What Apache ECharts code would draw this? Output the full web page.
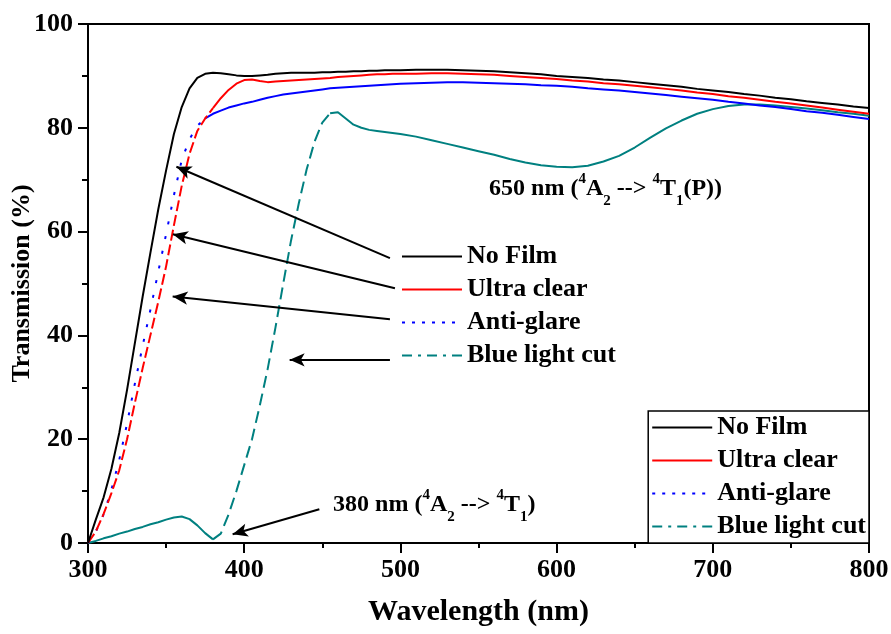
<!DOCTYPE html>
<html>
<head>
<meta charset="utf-8">
<script src="https://cdn.jsdelivr.net/npm/echarts@6/dist/echarts.min.js"></script>
<style>html,body{margin:0;padding:0;background:#fff;}#chart{width:891px;height:634px;}</style>
</head>
<body>
<div id="chart"></div>
<script>
// ---- data ----
const wavelength = [300,305,310,315,320,325,330,335,340,345,350,355,360,365,370,375,380,385,390,395,400,405,410,415,420,425,430,435,440,445,450,455,460,465,470,475,480,485,490,495,500,
  510,520,530,540,550,560,570,580,590,600,610,620,630,640,650,660,670,680,690,700,710,720,730,740,750,760,770,780,790,800];
const noFilm = [0,4.5,8.8,14.3,21.2,29.5,38.5,47.5,56.0,64.3,71.8,78.8,84.0,87.6,89.6,90.4,90.6,90.5,90.3,90.1,90.0,90.0,90.1,90.2,90.4,90.5,90.6,90.6,90.6,90.6,90.7,90.7,90.8,90.8,90.9,90.9,91.0,91.0,91.1,91.1,91.1,
  91.2,91.2,91.2,91.1,91.0,90.9,90.7,90.5,90.3,90.0,89.8,89.6,89.3,89.1,88.8,88.5,88.2,87.9,87.5,87.2,86.9,86.5,86.2,85.8,85.5,85.1,84.8,84.5,84.1,83.8];
const ultraClear = [0,2.2,5.6,9.6,14.0,20.0,27.0,33.7,40.1,46.5,53.3,61.2,68.8,75.0,79.4,81.8,83.8,85.7,87.3,88.5,89.2,89.3,89.0,88.8,88.9,89.0,89.1,89.2,89.3,89.4,89.5,89.6,89.8,89.9,90.0,90.1,90.2,90.3,90.3,90.4,90.4,
  90.4,90.5,90.5,90.4,90.3,90.2,90.0,89.8,89.6,89.4,89.1,88.9,88.6,88.4,88.1,87.8,87.5,87.2,86.8,86.5,86.1,85.8,85.4,85.0,84.7,84.3,83.9,83.5,83.1,82.7];
const antiGlare = [0,2.2,5.5,10.3,16.0,23.0,30.7,38.0,45.0,52.3,59.5,67.0,73.8,77.8,80.4,81.8,82.7,83.3,83.9,84.3,84.7,85.0,85.4,85.8,86.1,86.4,86.6,86.8,87.0,87.2,87.4,87.6,87.7,87.8,87.9,88.0,88.1,88.2,88.3,88.4,88.5,
  88.6,88.7,88.8,88.8,88.7,88.6,88.5,88.4,88.2,88.1,87.9,87.6,87.4,87.2,86.9,86.6,86.3,86.0,85.7,85.4,85.0,84.7,84.3,84.0,83.6,83.2,82.9,82.5,82.1,81.7];
const blueLightCut = [0,0.4,0.9,1.3,1.8,2.2,2.7,3.1,3.6,4.0,4.5,4.9,5.1,4.6,3.4,1.9,0.7,1.8,5.5,10.0,15.0,20.0,26.5,33.5,41.5,50.0,58.3,65.5,72.0,77.3,81.0,82.8,83.0,81.8,80.6,80.0,79.6,79.4,79.2,79.0,78.8,
  78.3,77.6,76.9,76.2,75.5,74.8,74.0,73.3,72.8,72.5,72.4,72.7,73.5,74.6,76.2,78.1,79.9,81.4,82.7,83.6,84.2,84.5,84.5,84.3,84.0,83.7,83.4,83.0,82.7,82.3];
const seriesNames = ['No Film','Ultra clear','Anti-glare','Blue light cut'];
// annotation arrows: [tailX, tailY, headX, headY] in data units
const arrows = [
  [493.3,54.9,356.6,72.5],
  [496.5,49.1,354.3,59.5],
  [493.3,43.1,354.2,47.5],
  [493.3,35.3,429.1,35.3],
  [448.1,6.5,392.6,1.7]
];
const notes = [
  {x:556.8, y:68.3, text:'{n|650 nm (}{sup|4}{n|A}{sub|2}{n| --> }{sup|4}{n|T}{sub|1}{n|(P))}'},
  {x:456.9, y:7.3, text:'{n|380 nm (}{sup|4}{n|A}{sub|2}{n| --> }{sup|4}{n|T}{sub|1}{n|)}'}
];

// ---- styles ----
const FONT = '"Liberation Serif","Times New Roman",serif';
const C = {nf:'#000000', uc:'#ff0000', ag:'#0000ff', bl:'#008080'};
function seg(ys, from, to){
  const out=[];
  for(let i=0;i<wavelength.length;i++){ if(wavelength[i]>=from && wavelength[i]<=to) out.push([wavelength[i], ys[i]]); }
  return out;
}
function line(name, data, color, type, z){
  return {type:'line', name, data, showSymbol:false, symbol:'none', silent:true, z:z||2,
    lineStyle:{color, width:2, type}, itemStyle:{color}, emphasis:{disabled:true}};
}
const hidden = {color:'rgba(0,0,0,0)', borderWidth:0, opacity:0};
const legendItems = [
  {name:'No Film', itemStyle:hidden, lineStyle:{color:C.nf, width:2, type:'solid'}},
  {name:'Ultra clear', itemStyle:hidden, lineStyle:{color:C.uc, width:2, type:'solid'}},
  {name:'Anti-glare', itemStyle:hidden, lineStyle:{color:C.ag, width:2, type:[3,7]}},
  {name:'Blue light cut', itemStyle:hidden, lineStyle:{color:C.bl, width:2, type:[10,6,3,6]}}
];
const legendText = {fontFamily:FONT, fontWeight:'bold', fontSize:26, color:'#000', lineHeight:33};

const richStyles = {
  n:{fontFamily:FONT, fontWeight:'bold', fontSize:24, color:'#000', lineHeight:40},
  sup:{fontFamily:FONT, fontWeight:'bold', fontSize:15, color:'#000', lineHeight:15, verticalAlign:'top', padding:[3,0,0,0]},
  sub:{fontFamily:FONT, fontWeight:'bold', fontSize:15, color:'#000', lineHeight:13, verticalAlign:'bottom'}
};

const black = line('No Film', seg(noFilm,300,800), C.nf, 'solid', 5);
black.markLine = {
  silent:true, animation:false, symbol:['none','arrow'], symbolSize:[10,15],
  label:{show:false}, lineStyle:{color:'#000', width:2, type:'solid'}, emphasis:{disabled:true},
  data: arrows.map(a => [{coord:[a[0],a[1]]},{coord:[a[2],a[3]]}])
};
black.markPoint = {
  silent:true, animation:false, symbol:'circle', symbolSize:0,
  itemStyle:{color:'rgba(0,0,0,0)'},
  label:{show:true, position:'right', distance:0, formatter:p=>p.data.text, rich:richStyles},
  data: notes.map(n => ({coord:[n.x,n.y], text:n.text}))
};

const series = [
  black,
  line('Ultra clear', seg(ultraClear,380,800), C.uc, 'solid', 4),
  line('Ultra clear', seg(ultraClear,300,380), C.uc, [11,4], 4),
  line('Anti-glare', seg(antiGlare,300,375), C.ag, [3,12], 3),
  line('Anti-glare', seg(antiGlare,375,800), C.ag, 'solid', 3),
  line('Blue light cut', seg(blueLightCut,300,380), C.bl, 'solid', 2),
  line('Blue light cut', seg(blueLightCut,380,455), C.bl, [12,6], 2),
  line('Blue light cut', seg(blueLightCut,455,800), C.bl, 'solid', 2)
];

const axisLabel = {fontFamily:FONT, fontWeight:'bold', fontSize:26, color:'#000'};
const chart = echarts.init(document.getElementById('chart'), null, {renderer:'canvas'});
chart.setOption({
  animation:false,
  backgroundColor:'#fff',
  grid:{left:88, right:22, top:24, bottom:91, containLabel:false, outerBoundsMode:'none',
    show:true, borderColor:'#000', borderWidth:2, backgroundColor:'transparent'},
  legend:[
    {data:legendItems, orient:'vertical', right:22, bottom:91, itemWidth:60, itemHeight:14, itemGap:0,
     padding:[0,3,0,3], borderColor:'#000', borderWidth:1.5, backgroundColor:'#fff', selectedMode:false,
     textStyle:legendText},
    {data:legendItems, orient:'vertical', left:401, top:240, itemWidth:60, itemHeight:14, itemGap:0,
     padding:0, selectedMode:false, textStyle:legendText}
  ],
  xAxis:{type:'value', min:300, max:800, interval:100,
    name:'Wavelength (nm)', nameLocation:'middle', nameGap:54, nameMoveOverlap:false,
    nameTextStyle:{fontFamily:FONT, fontWeight:'bold', fontSize:30, color:'#000'},
    axisLine:{show:true, onZero:false, lineStyle:{color:'#000', width:2}},
    axisTick:{show:true, inside:false, length:10, lineStyle:{color:'#000', width:2}},
    minorTick:{show:true, splitNumber:2, length:5, lineStyle:{color:'#000', width:2}},
    axisLabel:Object.assign({margin:14}, axisLabel),
    splitLine:{show:false}, minorSplitLine:{show:false}},
  yAxis:{type:'value', min:0, max:100, interval:20,
    name:'Transmission (%)', nameLocation:'middle', nameGap:53, nameMoveOverlap:false,
    nameTextStyle:{fontFamily:FONT, fontWeight:'bold', fontSize:26, color:'#000'},
    axisLine:{show:true, onZero:false, lineStyle:{color:'#000', width:2}},
    axisTick:{show:true, inside:false, length:10, lineStyle:{color:'#000', width:2}},
    minorTick:{show:true, splitNumber:2, length:6, lineStyle:{color:'#000', width:2}},
    axisLabel:Object.assign({margin:15}, axisLabel),
    splitLine:{show:false}, minorSplitLine:{show:false}},
  series
});
</script>
</body>
</html>
